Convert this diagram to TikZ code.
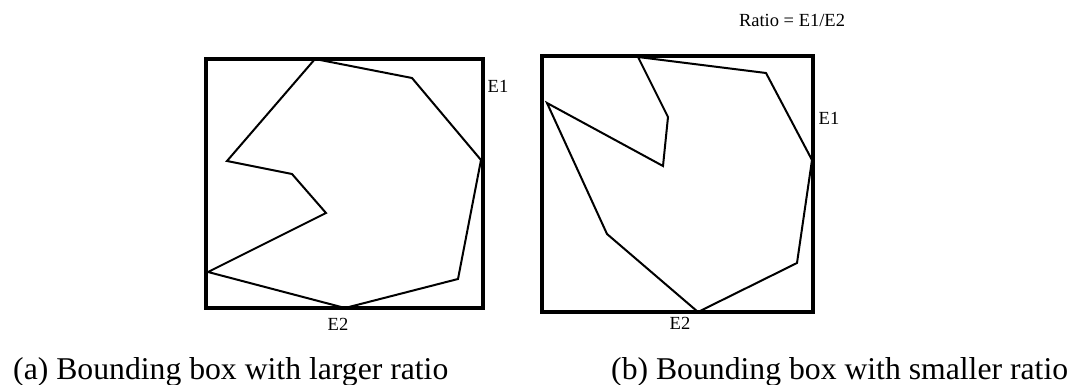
\documentclass[tikz,border=0pt]{standalone}
\usepackage{fontspec}
\setmainfont{Liberation Serif}
\begin{document}
\begin{tikzpicture}[x=1pt, y=-1pt]
  % Styles
  \tikzset{
    bbox/.style={line width=3.5pt, black},
    poly/.style={line width=2pt, black, line join=miter},
    lab/.style={font=\fontsize{18.5}{20}\selectfont, inner sep=0pt},
    capt/.style={font=\fontsize{31.7}{34}\selectfont, inner sep=0pt, anchor=base west}
  }
  \useasboundingbox (0,0) rectangle (1077,385);

  % --- (a) boîte englobante, grand rapport ---
  \draw[bbox] (206,59) rectangle (483,308);
  \draw[poly] (315,59) -- (412,78) -- (481,160) -- (458,279) -- (345,308)
    -- (208,272) -- (326,213) -- (292,174) -- (227,161) -- cycle;
  \node[lab] (e1a) at (498,86) {E1};
  \node[lab] (e2a) at (338,324) {E2};

  % --- (b) boîte englobante, petit rapport ---
  \draw[bbox] (542,56) rectangle (813,312);
  \draw[poly] (638,57) -- (766,73) -- (812,160) -- (797,263) -- (698,312)
    -- (607,234) -- (547,103) -- (663,166) -- (668,117) -- cycle;
  \node[lab] (e1b) at (829,118) {E1};
  \node[lab] (e2b) at (680,323) {E2};
  \node[lab] (ratio) at (792,20) {Ratio = E1/E2};

  % Légendes
  \node[capt] (capa) at (13,379) {(a) Bounding box with larger ratio};
  \node[capt] (capb) at (611,379) {(b) Bounding box with smaller ratio};
\end{tikzpicture}
\end{document}
